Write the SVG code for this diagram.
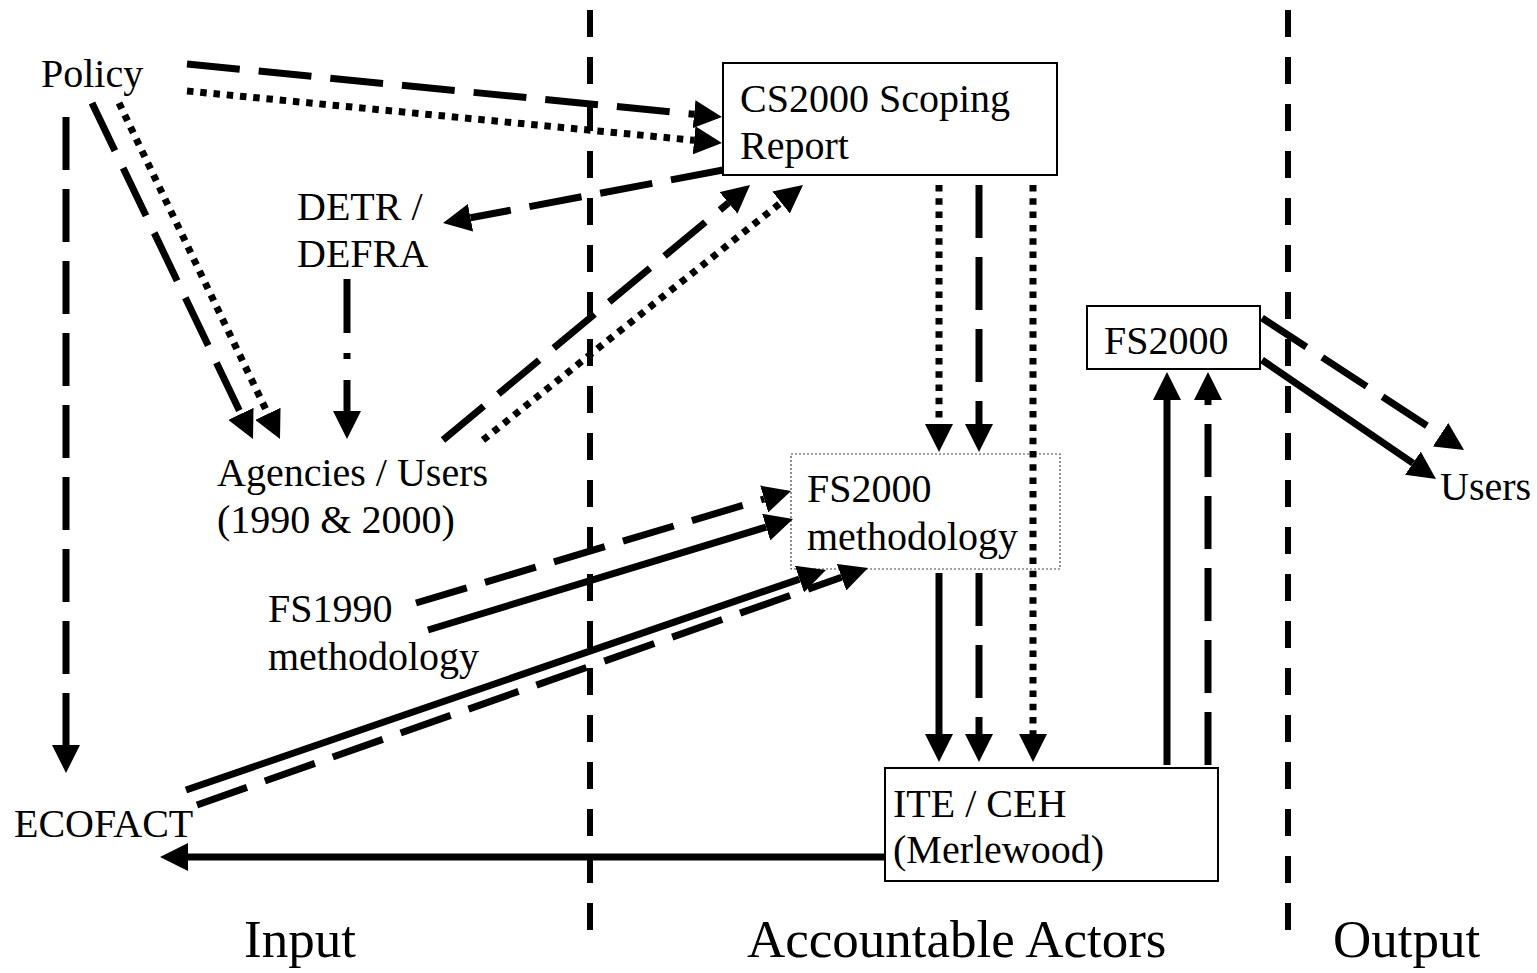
<svg xmlns="http://www.w3.org/2000/svg" width="1537" height="973" viewBox="0 0 1537 973">
<style>
text{font-family:"Liberation Serif","Times New Roman",serif;font-size:40px;fill:#000}
.lbl{font-size:53px}
.box{fill:#fff;stroke:#000;stroke-width:2}
.dbox{fill:#fff;stroke:#444;stroke-width:1.2;stroke-dasharray:2 2}
.sep{stroke:#000;stroke-width:6;stroke-dasharray:27 20;fill:none}
.solid{stroke:#000;stroke-width:7;fill:none;marker-end:url(#ah)}
.dash{stroke:#000;stroke-width:7;fill:none;stroke-dasharray:53 19;marker-end:url(#ah)}
.dot{stroke:#000;stroke-width:7;fill:none;stroke-dasharray:6.5 6.8;marker-end:url(#ah)}
.dd{stroke:#000;stroke-width:7;fill:none;stroke-dasharray:54 20 6 21;marker-end:url(#ah)}
</style>
<defs>
<marker id="ah" viewBox="0 0 28 28" refX="0" refY="14" markerWidth="28" markerHeight="28" markerUnits="userSpaceOnUse" orient="auto">
<path d="M0,0 L28,14 L0,28 Z" fill="#000"/>
</marker>
</defs>
<rect width="1537" height="973" fill="#fff"/>
<g id="separators">
<line class="sep" x1="590" y1="10" x2="590" y2="935"/>
<line class="sep" x1="1288" y1="10" x2="1288" y2="935"/>
</g>
<g id="policy"><text x="41" y="87">Policy</text></g>
<g id="cs2000"><rect class="box" x="723" y="63" width="334" height="112"/><text x="740" y="112">CS2000 Scoping</text><text x="740" y="159">Report</text></g>
<g id="detr"><text x="297" y="220">DETR /</text><text x="297" y="267">DEFRA</text></g>
<g id="agencies"><text x="217" y="486">Agencies / Users</text><text x="217" y="533">(1990 &amp; 2000)</text></g>
<g id="fs1990"><text x="268" y="622">FS1990</text><text x="268" y="670">methodology</text></g>
<g id="fs2000m"><rect class="dbox" x="791" y="454" width="269" height="115"/><text x="807" y="502">FS2000</text><text x="807" y="550">methodology</text></g>
<g id="ite"><rect class="box" x="885" y="768" width="333" height="113"/><text x="893" y="817">ITE / CEH</text><text x="893" y="863">(Merlewood)</text></g>
<g id="fs2000"><rect class="box" x="1087" y="306" width="173" height="63"/><text x="1104" y="354">FS2000</text></g>
<g id="users"><text x="1440" y="500">Users</text></g>
<g id="ecofact"><text x="14" y="837">ECOFACT</text></g>
<g id="labels">
<text class="lbl" x="244" y="957">Input</text>
<text class="lbl" x="747" y="957">Accountable Actors</text>
<text class="lbl" x="1333" y="957">Output</text>
</g>
<g id="connectors">
<line class="dash" x1="187" y1="64" x2="694.1" y2="114.2"/>
<line class="dot" x1="187" y1="91" x2="694.1" y2="140.3"/>
<line class="dash" x1="66" y1="117" x2="66" y2="745"/>
<line class="dash" x1="92" y1="103" x2="240.9" y2="413.8"/>
<line class="dot" x1="119" y1="103" x2="267.9" y2="413.8"/>
<line class="dd" x1="347" y1="279" x2="347" y2="411"/>
<line class="dash" x1="723" y1="170" x2="470.5" y2="217.8"/>
<line class="dash" x1="443" y1="440" x2="728.5" y2="202.9"/>
<line class="dot" x1="483" y1="440" x2="781.1" y2="202.5"/>
<line class="dot" x1="939" y1="185" x2="939" y2="424"/>
<line class="dash" x1="979" y1="185" x2="979" y2="424"/>
<line class="dot" x1="1033" y1="185" x2="1033" y2="734"/>
<line class="dash" x1="416" y1="603" x2="764.2" y2="499"/>
<line class="solid" x1="428" y1="630" x2="766.2" y2="527.1"/>
<line class="solid" x1="186" y1="790" x2="799.5" y2="579.1"/>
<line class="dash" x1="197" y1="805" x2="841.6" y2="577.3"/>
<line class="solid" x1="939" y1="573" x2="939" y2="734"/>
<line class="dash" x1="979" y1="573" x2="979" y2="734"/>
<line class="solid" x1="1167" y1="765" x2="1167" y2="400"/>
<line class="dash" x1="1208" y1="765" x2="1208" y2="400"/>
<line class="dash" x1="1262" y1="318" x2="1440.6" y2="434.7"/>
<line class="solid" x1="1262" y1="360" x2="1412.9" y2="463.2"/>
<line class="solid" x1="885" y1="857" x2="188" y2="857"/>
</g>
</svg>
